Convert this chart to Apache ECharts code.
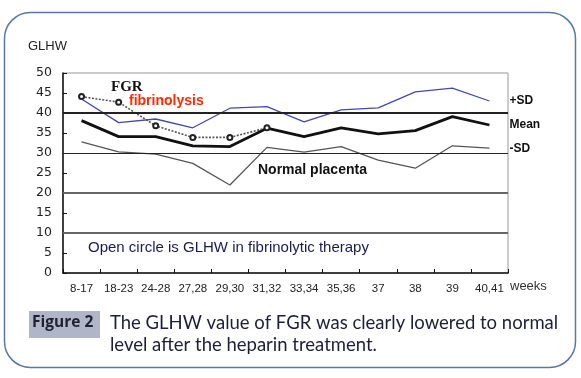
<!DOCTYPE html>
<html><head><meta charset="utf-8">
<script src="https://cdn.jsdelivr.net/npm/echarts@6/dist/echarts.min.js"></script>
<style>html,body{margin:0;padding:0;background:#fff}#c{width:581px;height:378px}</style>
</head><body><div id="c"></div>
<script>
const categories = ['8-17','18-23','24-28','27,28','29,30','31,32','33,34','35,36','37','38','39','40,41'];
const plusSD = [43.5, 37.6, 38.5, 36.3, 41.2, 41.6, 37.8, 40.8, 41.3, 45.3, 46.2, 43.0];
const mean   = [38.1, 34.1, 34.1, 31.8, 31.6, 36.2, 34.1, 36.3, 34.8, 35.6, 39.1, 37.0];
const minusSD= [32.8, 30.3, 29.7, 27.4, 22.0, 31.4, 30.2, 31.6, 28.2, 26.2, 31.8, 31.2];
const fgr    = [44.1, 42.7, 36.8, 33.9, 33.9, 36.3];
const refLines = [10, 20, 30, 40];
const yTicks = {min: 0, max: 50, interval: 5};

const chart = echarts.init(document.getElementById('c'));
const endLab = (t) => ({show: true, formatter: t, distance: 20, color: '#111', fontWeight: 'bold',
  fontSize: 12, fontFamily: 'Liberation Sans Narrow, Liberation Sans, Arial'});
chart.setOption({
  animation: false,
  grid: {left: 63, right: 73, top: 73, bottom: 105, show: true, borderColor: '#999', borderWidth: 1},
  xAxis: {type: 'category', data: categories, boundaryGap: true,
    axisLine: {lineStyle: {color: '#111', width: 1.5}},
    axisTick: {show: true, interval: 0, length: 4, inside: true, lineStyle: {color: '#111'}},
    axisLabel: {interval: 0, color: '#222', fontSize: 11.5, margin: 10, fontFamily: 'Liberation Sans, Arial'}},
  yAxis: {type: 'value', min: yTicks.min, max: yTicks.max, interval: yTicks.interval,
    axisLine: {show: true, lineStyle: {color: '#111', width: 1.5}},
    axisTick: {show: true, inside: true, length: 4, lineStyle: {color: '#111'}},
    splitLine: {show: false},
    axisLabel: {color: '#222', fontSize: 12.5, margin: 11, fontFamily: 'DejaVu Sans, Arial'}},
  series: [
    {type: 'line', data: plusSD, symbol: 'none', lineStyle: {color: '#4646b4', width: 1.3}, endLabel: endLab('+SD'),
      markLine: {silent: true, symbol: 'none', label: {show: false},
        data: refLines.map(v => ({yAxis: v, lineStyle: {color: v >= 30 ? '#222' : '#666', width: v === 30 ? 1.2 : 2, type: 'solid'}}))}},
    {type: 'line', data: mean, symbol: 'none', lineStyle: {color: '#111', width: 2.8}, endLabel: endLab('Mean')},
    {type: 'line', data: minusSD, symbol: 'none', lineStyle: {color: '#555', width: 1.3}, endLabel: endLab('-SD')},
    {type: 'line', data: fgr, symbol: 'emptyCircle', symbolSize: 5, showSymbol: true,
      itemStyle: {color: '#222', borderWidth: 1.2},
      lineStyle: {color: '#555', width: 1.6, type: [2, 1.5]}}
  ],
  graphic: [
    {type: 'rect', shape: {x: 4.5, y: 12.5, width: 571, height: 355, r: 26}, style: {fill: 'none', stroke: '#5877a6', lineWidth: 1.5}, z: -10},
    {type: 'text', left: 28, top: 40, style: {text: 'GLHW', fontSize: 13, fill: '#222', fontFamily: 'Liberation Sans, Arial'}},
    {type: 'text', left: 111, top: 80, style: {text: 'FGR', fontSize: 15, fontWeight: 'bold', fill: '#111', fontFamily: 'Liberation Serif, serif'}},
    {type: 'text', left: 129, top: 94, style: {text: 'fibrinolysis', fontSize: 14, fontWeight: 'bold', fill: '#ff2a00', fontFamily: 'Liberation Sans Narrow, Liberation Sans, Arial'}},
    {type: 'text', left: 258, top: 163, style: {text: 'Normal placenta', fontSize: 14, fontWeight: 'bold', fill: '#111', fontFamily: 'Liberation Sans Narrow, Liberation Sans, Arial'}},
    {type: 'text', left: 88, top: 240, style: {text: 'Open circle is GLHW in fibrinolytic therapy', fontSize: 15, fill: '#1a1a50', fontFamily: 'Liberation Sans, Arial'}},
    {type: 'text', left: 510, top: 280, style: {text: 'weeks', fontSize: 13, fill: '#333', fontFamily: 'Liberation Sans, Arial'}},
    {type: 'rect', shape: {x: 29, y: 311, width: 71, height: 27}, style: {fill: '#b1b5c8'}},
    {type: 'text', left: 32, top: 315, style: {text: 'Figure 2', fontSize: 15.5, fontWeight: 'bold', fill: '#1f2030', fontFamily: 'Open Sans, Lato, sans-serif'}},
    {type: 'text', left: 110, top: 314, style: {text: 'The GLHW value of FGR was clearly lowered to normal', fontSize: 18.5, fill: '#1e1e3a', fontFamily: 'Lato, sans-serif'}},
    {type: 'text', left: 110, top: 336, style: {text: 'level after the heparin treatment.', fontSize: 18.5, fill: '#1e1e3a', fontFamily: 'Lato, sans-serif'}}
  ]
});
</script></body></html>
